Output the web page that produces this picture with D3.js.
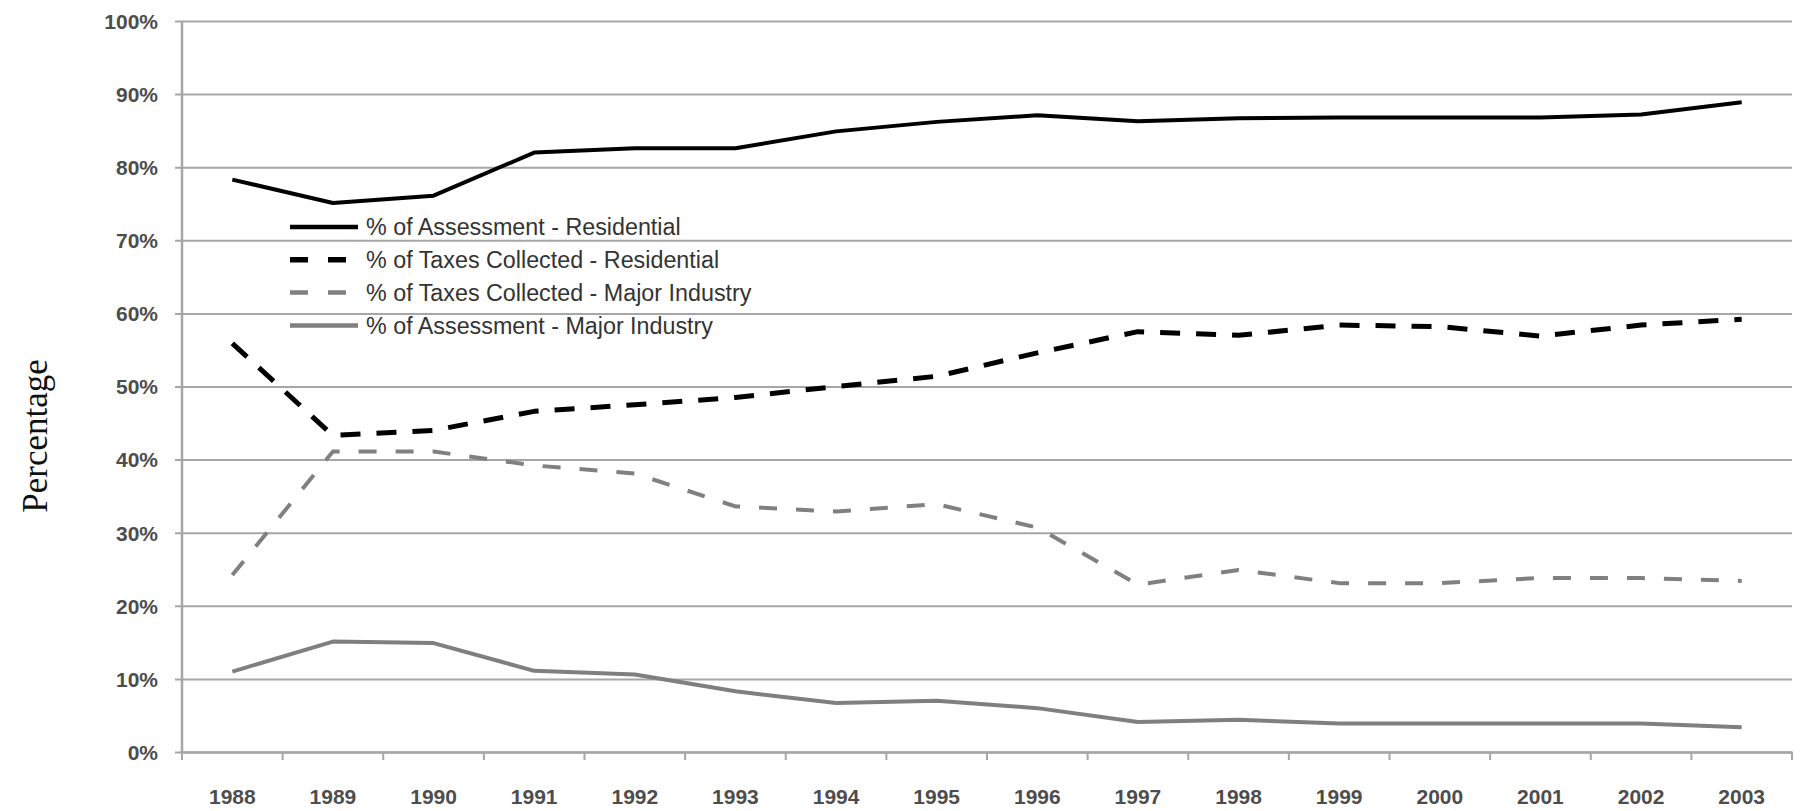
<!DOCTYPE html>
<html>
<head>
<meta charset="utf-8">
<script src="https://cdn.jsdelivr.net/npm/d3@7"></script>
<style>
  html, body { margin: 0; padding: 0; background: #fff; }
  svg { display: block; }
</style>
</head>
<body>
<svg id="chart" width="1801" height="811"></svg>
<script>
// Years on the category axis
const years = ["1988","1989","1990","1991","1992","1993","1994","1995",
               "1996","1997","1998","1999","2000","2001","2002","2003"];

// Shares in percent, one value per year
const assessResidential = [78.3, 75.1, 76.1, 82.0, 82.6, 82.6, 84.9, 86.2, 87.1, 86.3, 86.7, 86.8, 86.8, 86.8, 87.2, 88.9];
const taxesResidential  = [55.9, 43.3, 44.0, 46.6, 47.5, 48.5, 50.0, 51.4, 54.6, 57.5, 57.0, 58.4, 58.2, 56.9, 58.4, 59.2];
const taxesIndustry     = [24.2, 41.1, 41.1, 39.2, 38.1, 33.6, 32.9, 33.9, 30.7, 22.9, 24.9, 23.1, 23.1, 23.8, 23.8, 23.4];
const assessIndustry    = [11.0, 15.1, 14.9, 11.1, 10.6, 8.3, 6.7, 7.0, 6.0, 4.1, 4.4, 3.9, 3.9, 3.9, 3.9, 3.4];

const seriesNames = [
  "% of Assessment - Residential",
  "% of Taxes Collected - Residential",
  "% of Taxes Collected - Major Industry",
  "% of Assessment - Major Industry"
];

const yTicks = [0, 10, 20, 30, 40, 50, 60, 70, 80, 90, 100];
const yTitle = "Percentage";

const series = [
  { name: seriesNames[0], values: assessResidential, color: "#000000", width: 4, dash: null },
  { name: seriesNames[1], values: taxesResidential,  color: "#000000", width: 5, dash: "20,16" },
  { name: seriesNames[2], values: taxesIndustry,     color: "#808080", width: 4, dash: "18,19" },
  { name: seriesNames[3], values: assessIndustry,    color: "#7f7f7f", width: 4, dash: null }
];

const svg = d3.select("#chart");
const plotL = 182, plotR = 1792, plotT = 21, plotB = 752;

const x = d3.scaleBand().domain(years).range([plotL, plotR]).paddingInner(0).paddingOuter(0);
const y = d3.scaleLinear().domain([0, 100]).range([plotB, plotT]);

const axisFont = "'Liberation Sans', Arial, sans-serif";

// Horizontal gridlines with the percentage labels
const yAxis = svg.append("g")
  .attr("transform", `translate(${plotL},0)`)
  .call(d3.axisLeft(y).tickValues(yTicks).tickFormat(d => d + "%")
        .tickSize(-(plotR - plotL)).tickPadding(0));
yAxis.select(".domain").remove();
yAxis.selectAll(".tick line")
  .attr("x1", -7)
  .attr("stroke", "#a6a6a6").attr("stroke-width", 2);
yAxis.selectAll(".tick text")
  .attr("x", -24)
  .attr("dy", "0.35em")
  .style("font-family", axisFont).style("font-size", "21px").style("font-weight", "bold")
  .attr("fill", "#4d4d4d");

// Vertical axis line
svg.append("line")
  .attr("x1", plotL).attr("x2", plotL).attr("y1", y(100)).attr("y2", y(0))
  .attr("stroke", "#a6a6a6").attr("stroke-width", 2.5);

// Category axis: labels centred in each band, ticks on band boundaries
const xAxis = svg.append("g")
  .attr("transform", `translate(0,${plotB})`)
  .call(d3.axisBottom(x).tickSize(0).tickPadding(37));
xAxis.select(".domain")
  .attr("stroke", "#a6a6a6").attr("stroke-width", 2.5);
xAxis.selectAll(".tick text")
  .style("font-family", axisFont).style("font-size", "21px").style("font-weight", "bold")
  .attr("fill", "#4d4d4d");

const boundaries = years.map(d => x(d)).concat([x(years[years.length - 1]) + x.step()]);
svg.append("g").selectAll("line").data(boundaries).join("line")
  .attr("x1", d => d).attr("x2", d => d)
  .attr("y1", plotB).attr("y2", plotB + 8)
  .attr("stroke", "#a6a6a6").attr("stroke-width", 2);

// Series lines
const line = d3.line()
  .x((d, i) => x(years[i]) + x.bandwidth() / 2)
  .y(d => y(d));

svg.append("g").selectAll("path").data(series).join("path")
  .attr("d", s => line(s.values))
  .attr("fill", "none")
  .attr("stroke", s => s.color)
  .attr("stroke-width", s => s.width)
  .attr("stroke-dasharray", s => s.dash)
  .attr("stroke-linejoin", "round");

// Legend
const legend = svg.append("g").attr("transform", "translate(290,227)");
const rowH = 32.8;
const items = legend.selectAll("g").data(series).join("g")
  .attr("transform", (d, i) => `translate(0,${i * rowH})`);
items.append("line")
  .attr("x1", 0).attr("x2", 68).attr("y1", 0).attr("y2", 0)
  .attr("stroke", d => d.color)
  .attr("stroke-width", d => d.width + 0.5)
  .attr("stroke-dasharray", d => d.dash ? "18,20" : null);
items.append("text")
  .attr("x", 76).attr("y", 0).attr("dy", "0.36em")
  .style("font-family", axisFont).style("font-size", "23.3px")
  .attr("fill", "#333")
  .text(d => d.name);

// Vertical axis title
svg.append("text")
  .attr("transform", `translate(47,436) rotate(-90)`)
  .attr("text-anchor", "middle")
  .style("font-family", "'Liberation Serif', 'Times New Roman', serif")
  .style("font-size", "35px")
  .attr("fill", "#111")
  .text(yTitle);
</script>
</body>
</html>
